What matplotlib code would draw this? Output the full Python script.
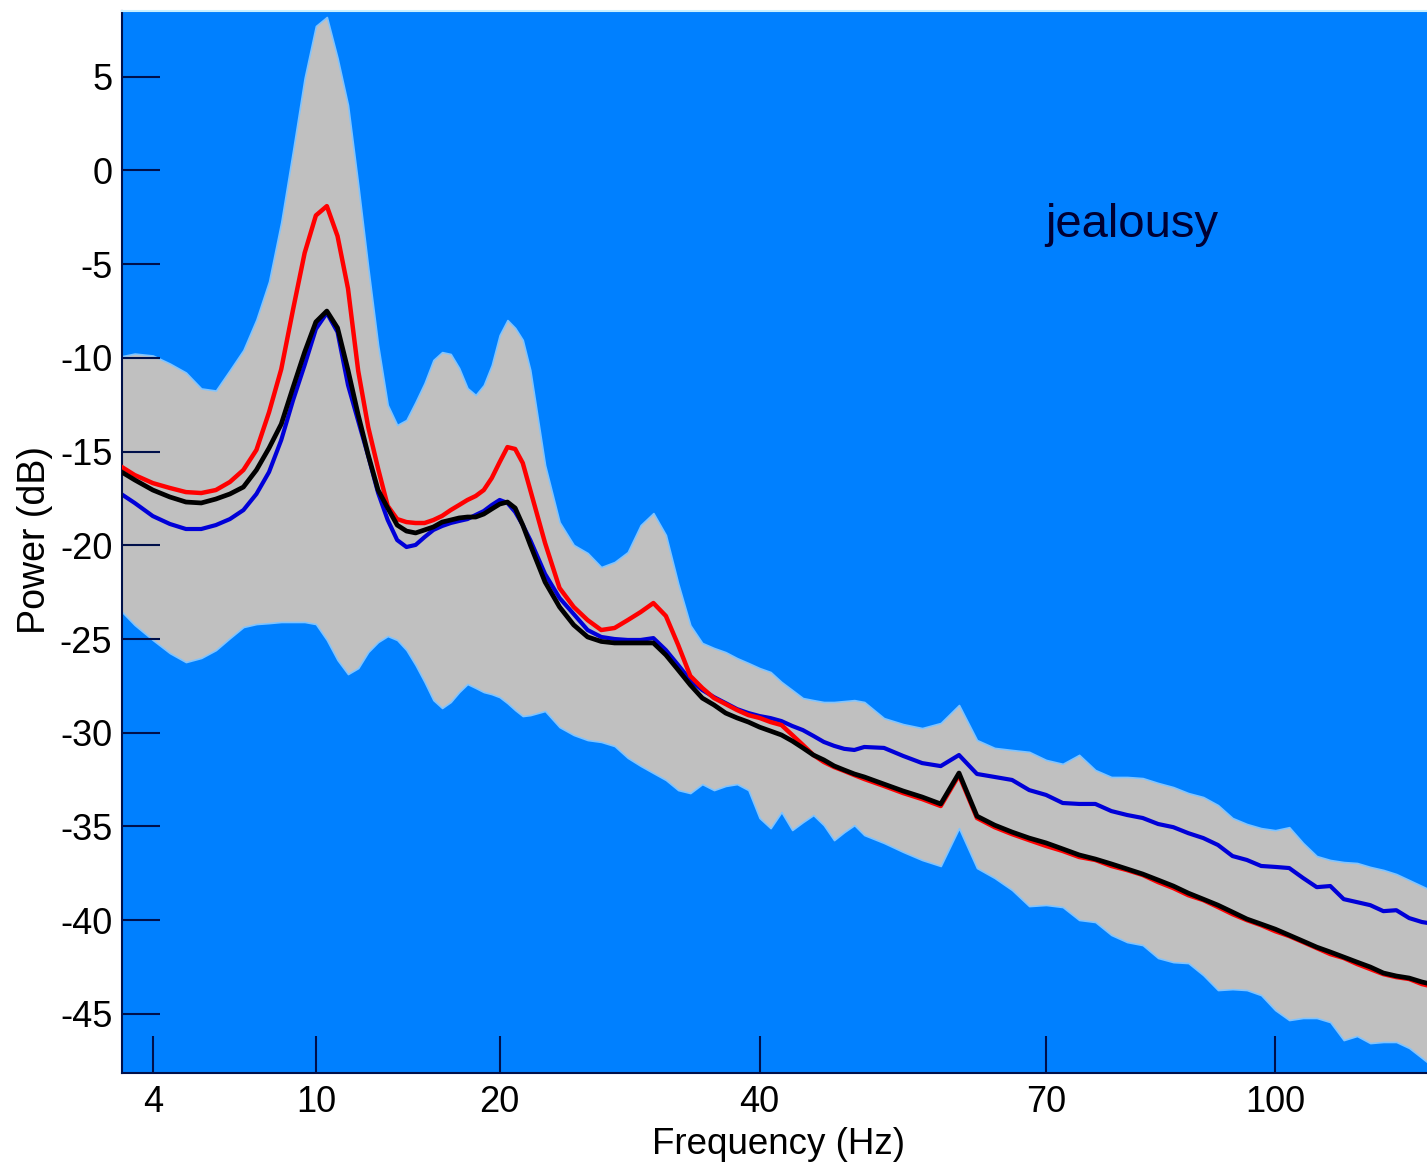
import numpy as np
import matplotlib
matplotlib.use("Agg")
import matplotlib.pyplot as plt

plt.rcParams["font.family"] = ["Liberation Sans", "DejaVu Sans"]
plt.rcParams["axes.unicode_minus"] = False

# Frequency grid (Hz)
freqs = [3, 3.5, 4, 4.5, 5, 5.5, 6, 6.5, 7, 7.5, 8, 8.5, 9, 9.5, 10, 10.5, 11, 11.5,
         12, 12.5, 13, 13.5, 14, 14.5, 15, 15.5, 16, 16.5, 17, 17.5, 18, 18.5, 19, 19.5,
         20, 20.5, 21, 21.5, 22, 23, 24, 25, 26, 27, 28, 29, 30, 31, 32, 33, 34, 35, 36,
         37, 38, 39, 40, 41, 42, 43, 44, 45, 46, 47, 48, 49, 50, 52, 54, 56, 58, 60, 62,
         64, 66, 68, 70, 72, 74, 76, 78, 80, 82, 84, 86, 88, 90, 92, 94, 96, 98, 100,
         102, 104, 106, 108, 110, 112, 114, 116, 118, 120, 122, 124]

# Power spectra (dB)
power_red = [-15.6, -16.25, -16.68, -16.94, -17.16, -17.21, -17.05, -16.62, -15.98, -14.91,
             -12.9, -10.6, -7.4, -4.4, -2.4, -1.9, -3.5, -6.3, -10.7, -13.7, -15.9, -17.9,
             -18.6, -18.76, -18.81, -18.81, -18.65, -18.43, -18.12, -17.85, -17.58, -17.37,
             -17.05, -16.41, -15.56, -14.76, -14.86, -15.61, -17.05, -19.88, -22.28, -23.29,
             -23.99, -24.52, -24.41, -23.99, -23.56, -23.08, -23.77, -25.32, -26.97, -27.61,
             -28.15, -28.47, -28.79, -29.06, -29.21, -29.43, -29.59, -30.12, -30.65, -31.19,
             -31.56, -31.83, -32.04, -32.26, -32.47, -32.84, -33.22, -33.54, -33.91, -32.26,
             -34.55, -35.04, -35.41, -35.73, -36.04, -36.31, -36.63, -36.79, -37.11, -37.33,
             -37.59, -37.97, -38.29, -38.67, -38.93, -39.3, -39.68, -40.0, -40.27, -40.59,
             -40.85, -41.17, -41.49, -41.81, -42.02, -42.34, -42.61, -42.88, -43.04, -43.14,
             -43.41, -43.57]

power_black = [-15.88, -16.51, -17.05, -17.42, -17.69, -17.74, -17.53, -17.26, -16.89, -15.98,
               -14.81, -13.53, -11.56, -9.69, -8.08, -7.5, -8.4, -10.65, -13.05, -15.18,
               -17.05, -18.01, -18.92, -19.24, -19.34, -19.18, -19.02, -18.76, -18.65, -18.54,
               -18.49, -18.49, -18.33, -18.06, -17.8, -17.69, -18.01, -18.92, -19.98, -21.96,
               -23.29, -24.25, -24.89, -25.13, -25.21, -25.21, -25.21, -25.21, -25.85, -26.65,
               -27.45, -28.15, -28.52, -28.95, -29.21, -29.43, -29.7, -29.91, -30.12, -30.44,
               -30.81, -31.19, -31.45, -31.77, -31.99, -32.2, -32.36, -32.74, -33.11, -33.43,
               -33.8, -32.15, -34.45, -34.93, -35.3, -35.62, -35.88, -36.2, -36.52, -36.74,
               -37.0, -37.27, -37.54, -37.86, -38.18, -38.56, -38.88, -39.2, -39.57, -39.94,
               -40.21, -40.48, -40.8, -41.12, -41.44, -41.7, -41.97, -42.24, -42.5, -42.82,
               -42.98, -43.09, -43.3, -43.46]

power_blue = [-17.05, -17.74, -18.44, -18.86, -19.13, -19.13, -18.92, -18.6, -18.12, -17.26,
              -16.09, -14.38, -12.25, -10.38, -8.46, -7.6, -8.62, -11.45, -13.37, -15.24,
              -17.2, -18.65, -19.72, -20.09, -19.98, -19.56, -19.18, -18.97, -18.81, -18.70,
              -18.6, -18.38, -18.17, -17.85, -17.58, -17.74, -18.22, -18.92, -19.72, -21.53,
              -22.81, -23.67, -24.52, -24.89, -25.0, -25.05, -25.05, -24.95, -25.59, -26.39,
              -27.19, -27.72, -28.1, -28.42, -28.74, -28.95, -29.11, -29.22, -29.38, -29.64,
              -29.86, -30.17, -30.49, -30.7, -30.86, -30.92, -30.76, -30.81, -31.24, -31.62,
              -31.78, -31.19, -32.2, -32.36, -32.52, -33.06, -33.32, -33.75, -33.8, -33.8,
              -34.18, -34.39, -34.55, -34.87, -35.04, -35.36, -35.62, -35.99, -36.58, -36.79,
              -37.11, -37.16, -37.22, -37.75, -38.24, -38.18, -38.88, -39.04, -39.2, -39.52,
              -39.47, -39.89, -40.1, -40.21]

band_upper = [-9.98, -9.77, -9.87, -10.3, -10.78, -11.63, -11.74, -10.65, -9.58, -7.95,
              -5.92, -2.75, 1.09, 4.94, 7.71, 8.19, 6.0, 3.49, -0.77, -5.2, -9.31, -12.51,
              -13.58, -13.31, -12.35, -11.34, -10.11, -9.69, -9.79, -10.54, -11.61, -11.98,
              -11.45, -10.38, -8.78, -7.98, -8.4, -9.04, -10.65, -15.72, -18.76, -19.98,
              -20.41, -21.16, -20.89, -20.36, -18.92, -18.28, -19.45, -22.04, -24.26, -25.21,
              -25.48, -25.7, -26.02, -26.28, -26.55, -26.76, -27.29, -27.72, -28.15, -28.26,
              -28.36, -28.36, -28.31, -28.26, -28.36, -29.22, -29.54, -29.75, -29.48, -28.52,
              -30.39, -30.81, -30.92, -31.02, -31.45, -31.66, -31.18, -31.99, -32.36, -32.36,
              -32.42, -32.68, -32.9, -33.22, -33.43, -33.86, -34.55, -34.87, -35.09, -35.2,
              -35.04, -35.88, -36.58, -36.79, -36.9, -36.95, -37.16, -37.32, -37.54, -37.86,
              -38.18, -38.5]

band_lower = [-23.18, -24.25, -25.05, -25.75, -26.23, -26.01, -25.59, -24.95, -24.36, -24.2,
              -24.15, -24.09, -24.09, -24.09, -24.2, -25.05, -26.12, -26.87, -26.55, -25.69,
              -25.16, -24.84, -25.05, -25.59, -26.39, -27.29, -28.26, -28.68, -28.36, -27.83,
              -27.4, -27.61, -27.83, -27.94, -28.1, -28.42, -28.79, -29.11, -29.06, -28.84,
              -29.7, -30.12, -30.39, -30.49, -30.71, -31.34, -31.77, -32.15, -32.52, -33.06,
              -33.22, -32.74, -33.06, -32.84, -32.74, -33.06, -34.55, -35.09, -34.23, -35.19,
              -34.77, -34.39, -34.93, -35.73, -35.3, -34.93, -35.46, -35.88, -36.36, -36.79,
              -37.11, -35.09, -37.22, -37.75, -38.39, -39.25, -39.19, -39.3, -39.99, -40.1,
              -40.79, -41.17, -41.33, -42.02, -42.24, -42.29, -42.93, -43.73, -43.68, -43.73,
              -44.0, -44.8, -45.33, -45.22, -45.22, -45.44, -46.4, -46.18, -46.56, -46.5,
              -46.5, -46.82, -47.35, -47.89]

xticks = [4, 10, 20, 40, 70, 100]
yticks = [-45, -40, -35, -30, -25, -20, -15, -10, -5, 0, 5]

W, H = 1427, 1169
fig = plt.figure(figsize=(W / 100, H / 100), dpi=100)
fig.patch.set_facecolor("white")

left, right = 122 / W, 1.0
bottom, top = (H - 1072.7) / H, (H - 11) / H
ax = fig.add_axes([left, bottom, right - left, top - bottom])
ax.set_facecolor("#0080ff")

ax.set_xscale("function", functions=(np.sqrt, np.square))
ax.set_xlim(3.17, 122.8)
ax.set_ylim(-48.14, 8.51)

ax.fill_between(freqs, band_lower, band_upper, facecolor="#c0c0c0",
                edgecolor="#80c4ff", linewidth=1.2, zorder=1)
ax.plot(freqs, power_blue, color="#0000d8", lw=3.0, zorder=2)
ax.plot(freqs, power_red, color="#ff0000", lw=3.2, zorder=3)
ax.plot(freqs, power_black, color="black", lw=3.4, zorder=4)

navy = "#00104a"
ax.set_xticks(xticks)
ax.set_xticklabels([str(t) for t in xticks])
ax.set_yticks(yticks)
ax.set_yticklabels([str(t) for t in yticks])
ax.minorticks_off()
ax.tick_params(axis="both", direction="in", length=27, width=1.5, color=navy,
               labelsize=26, labelcolor="black")
ax.tick_params(axis="y", pad=7)
ax.tick_params(axis="x", pad=9)

for side in ("left", "bottom"):
    ax.spines[side].set_color(navy)
    ax.spines[side].set_linewidth(1.5)
ax.spines["top"].set_color("#c8f0ff")
ax.spines["top"].set_linewidth(1.5)
ax.spines["right"].set_visible(False)

# Condition label inside the plot area (data coordinates)
ax.text(80.6, -2.9, "jealousy", fontsize=34, color="#000033",
        ha="center", va="center")

fig.text(778 / W, 1 - 1145 / H, "Frequency (Hz)", fontsize=26.5,
         ha="center", va="center", color="black")
fig.text(35 / W, 1 - 540 / H, "Power (dB)", fontsize=27, rotation=90,
         ha="center", va="center", color="black")

fig.savefig("out.png", dpi=100, facecolor="white")
